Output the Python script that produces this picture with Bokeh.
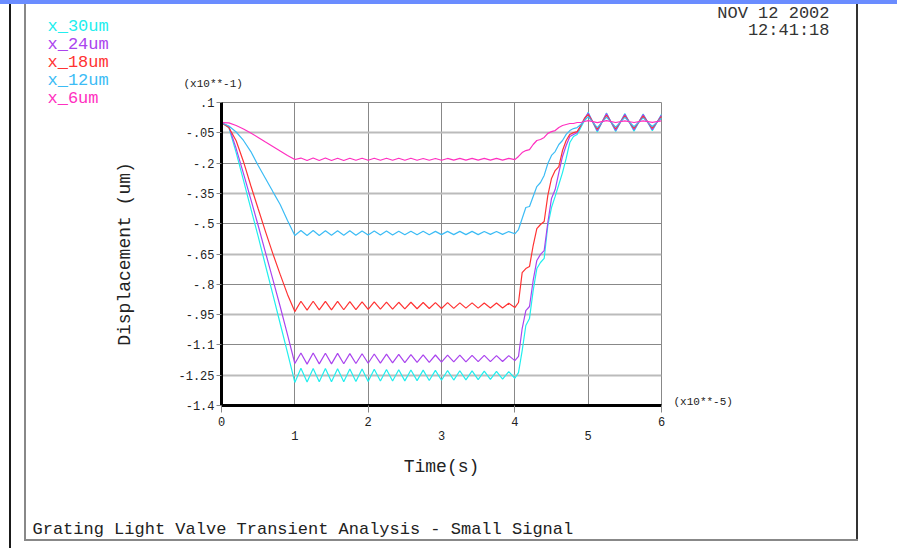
from bokeh.plotting import figure
from bokeh.models import Range1d, FixedTicker, LinearAxis, Grid, Label, InlineStyleSheet
from bokeh.embed import file_html
from bokeh.resources import INLINE

# ---------------- data (time in 1e-5 s, displacement in 1e-1 um) ----------------
t_vals = [
    0.0, 0.1, 0.2, 0.3, 0.4, 0.5, 0.6, 0.7, 0.8, 0.9, 1.0,
    1.083, 1.167, 1.25, 1.333, 1.417, 1.5, 1.583, 1.667, 1.75, 1.833, 1.917, 2.0,
    2.083, 2.167, 2.25, 2.333, 2.417, 2.5, 2.583, 2.667, 2.75, 2.833, 2.917, 3.0,
    3.083, 3.167, 3.25, 3.333, 3.417, 3.5, 3.583, 3.667, 3.75, 3.833, 3.917, 4.0,
    4.05, 4.1, 4.15, 4.2, 4.25, 4.3, 4.35, 4.4, 4.45, 4.5, 4.55, 4.6, 4.65, 4.7, 4.75, 4.8, 4.85, 4.9, 4.95,
    5.0, 5.125, 5.25, 5.375, 5.5, 5.625, 5.75, 5.875, 6.0,
]
x_30um = [
    0.0, -0.024, -0.148, -0.286, -0.425, -0.563, -0.707, -0.850, -0.994, -1.138, -1.286,
    -1.216, -1.284, -1.217, -1.283, -1.217, -1.283, -1.218, -1.282, -1.219, -1.281, -1.219, -1.281,
    -1.221, -1.279, -1.222, -1.279, -1.223, -1.278, -1.224, -1.277, -1.225, -1.276, -1.226, -1.275,
    -1.227, -1.274, -1.228, -1.273, -1.229, -1.272, -1.230, -1.271, -1.231, -1.270, -1.232, -1.265,
    -1.237, -1.128, -1.004, -0.969, -0.831, -0.722, -0.692, -0.672, -0.509, -0.420, -0.365, -0.306,
    -0.247, -0.177, -0.098, -0.068, -0.058, -0.024, 0.011,
    0.052, -0.046, 0.048, -0.044, 0.045, -0.042, 0.043, -0.040, 0.042,
]
x_24um = [
    0.0, -0.019, -0.128, -0.252, -0.380, -0.509, -0.643, -0.776, -0.910, -1.049, -1.192,
    -1.140, -1.195, -1.140, -1.194, -1.141, -1.194, -1.142, -1.193, -1.143, -1.192, -1.144, -1.191,
    -1.145, -1.190, -1.146, -1.189, -1.147, -1.188, -1.148, -1.187, -1.149, -1.186, -1.150, -1.185,
    -1.151, -1.184, -1.151, -1.184, -1.152, -1.183, -1.152, -1.183, -1.153, -1.182, -1.153, -1.178,
    -1.157, -1.019, -0.930, -0.910, -0.781, -0.682, -0.652, -0.633, -0.494, -0.375, -0.331, -0.247,
    -0.167, -0.113, -0.068, -0.058, -0.049, -0.014, 0.021,
    0.048, -0.040, 0.045, -0.038, 0.042, -0.036, 0.040, -0.035, 0.038,
]
x_18um = [
    0.0, -0.024, -0.089, -0.193, -0.312, -0.426, -0.539, -0.648, -0.751, -0.850, -0.935,
    -0.884, -0.928, -0.884, -0.927, -0.885, -0.927, -0.885, -0.926, -0.886, -0.925, -0.887, -0.924,
    -0.887, -0.923, -0.888, -0.923, -0.889, -0.922, -0.889, -0.921, -0.890, -0.920, -0.891, -0.920,
    -0.891, -0.919, -0.892, -0.918, -0.892, -0.918, -0.893, -0.917, -0.893, -0.917, -0.894, -0.915,
    -0.890, -0.742, -0.722, -0.712, -0.608, -0.524, -0.504, -0.489, -0.360, -0.276, -0.237, -0.217,
    -0.138, -0.088, -0.058, -0.049, -0.044, -0.014, 0.021,
    0.040, -0.032, 0.037, -0.030, 0.034, -0.028, 0.032, -0.027, 0.030,
]
x_12um = [
    0.0, -0.016, -0.046, -0.088, -0.143, -0.212, -0.276, -0.341, -0.405, -0.484, -0.558,
    -0.534, -0.558, -0.534, -0.558, -0.535, -0.557, -0.535, -0.557, -0.535, -0.557, -0.536, -0.556,
    -0.536, -0.556, -0.536, -0.556, -0.537, -0.555, -0.537, -0.555, -0.537, -0.555, -0.538, -0.554,
    -0.538, -0.554, -0.538, -0.554, -0.538, -0.554, -0.539, -0.553, -0.539, -0.553, -0.539, -0.550,
    -0.529, -0.474, -0.420, -0.415, -0.365, -0.316, -0.296, -0.261, -0.202, -0.162, -0.143, -0.108,
    -0.088, -0.058, -0.039, -0.029, -0.024, -0.009, 0.011,
    0.030, -0.024, 0.028, -0.022, 0.026, -0.020, 0.024, -0.019, 0.022,
]
x_6um = [
    0.0, -0.001, -0.014, -0.031, -0.051, -0.073, -0.096, -0.118, -0.140, -0.162, -0.182,
    -0.175, -0.187, -0.175, -0.187, -0.175, -0.187, -0.176, -0.187, -0.176, -0.186, -0.176, -0.186,
    -0.176, -0.186, -0.176, -0.186, -0.176, -0.186, -0.176, -0.186, -0.177, -0.186, -0.177, -0.186,
    -0.177, -0.185, -0.177, -0.185, -0.177, -0.185, -0.177, -0.185, -0.177, -0.185, -0.177, -0.183,
    -0.167, -0.148, -0.138, -0.133, -0.108, -0.088, -0.083, -0.073, -0.053, -0.044, -0.039, -0.024,
    -0.014, -0.009, -0.004, -0.004, 0.001, 0.001, 0.006,
    0.010, 0.000, 0.010, 0.001, 0.009, 0.001, 0.009, 0.002, 0.009,
]

series_names = ["x_30um", "x_24um", "x_18um", "x_12um", "x_6um"]
series_values = [x_30um, x_24um, x_18um, x_12um, x_6um]
series_colors = ["#22eeee", "#aa44ee", "#ff3333", "#3cbcf5", "#ff30c0"]

x_ticks_even = [0, 2, 4, 6]
x_ticks_odd = [1, 3, 5]
y_ticks = [0.1, -0.05, -0.2, -0.35, -0.5, -0.65, -0.8, -0.95, -1.1, -1.25, -1.4]
y_tick_labels = [".1", "-.05", "-.2", "-.35", "-.5", "-.65", "-.8", "-.95", "-1.1", "-1.25", "-1.4"]
y_grid_dark = [-0.2, -0.5, -0.8, -1.1]
y_grid_light = [-0.05, -0.35, -0.65, -0.95, -1.25]

title_text = "Grating Light Valve Transient Analysis - Small Signal"
date_text = "NOV 12 2002"
time_text = "12:41:18"
x_label = "Time(s)"
y_label = "Displacement (um)"
x_scale_note = "(x10**-5)"
y_scale_note = "(x10**-1)"

# ---------------- layout ----------------
W, H = 897, 548
FL, FR, FT, FB = 221, 661, 102, 405
X0, X1, Y0, Y1 = 0.0, 6.0, -1.4, 0.1
FONT = "Liberation Mono"


def dx(X):
    # page pixel column -> data x (for placing text outside the frame)
    return X0 + (X - FL) / (FR - FL) * (X1 - X0)


def dy(Y):
    # page pixel row -> data y
    return Y1 - (Y - FT) / (FB - FT) * (Y1 - Y0)


page_css = InlineStyleSheet(css="""
:host {
  background:
    linear-gradient(#6a8cff, #6a8cff) 0px 0px / 897px 4px no-repeat,
    linear-gradient(#1a1a1a, #1a1a1a) 9px 4px / 2px 544px no-repeat,
    linear-gradient(#888888, #888888) 24px 4px / 2px 537px no-repeat,
    linear-gradient(#888888, #888888) 24px 539px / 834px 2px no-repeat,
    linear-gradient(#333333, #333333) 856px 4px / 2px 537px no-repeat,
    #ffffff;
}
""")

p = figure(width=W, height=H, output_backend="svg", toolbar_location=None,
           x_range=Range1d(X0, X1), y_range=Range1d(Y0, Y1),
           min_border_left=FL, min_border_right=W - FR,
           min_border_top=FT, min_border_bottom=H - FB,
           stylesheets=[page_css])
p.background_fill_color = "white"
p.border_fill_color = None
p.outline_line_color = "#888888"
p.outline_line_width = 1

xa = p.xaxis[0]
xa.ticker = FixedTicker(ticks=x_ticks_even)
xa.axis_line_color = "black"
xa.axis_line_width = 3
xa.major_tick_out = 7
xa.major_tick_in = 0
xa.major_tick_line_color = "#888888"
xa.minor_tick_line_color = None
xa.major_label_text_font = FONT
xa.major_label_text_font_size = "12px"
xa.major_label_text_color = "#222222"
xa.major_label_standoff = 4

xa2 = LinearAxis(ticker=FixedTicker(ticks=x_ticks_odd), axis_line_color=None,
                 major_tick_line_color=None, minor_tick_line_color=None,
                 major_tick_out=0, major_tick_in=0, major_label_standoff=2,
                 major_label_text_font=FONT, major_label_text_font_size="12px",
                 major_label_text_color="#222222",
                 axis_label=x_label, axis_label_text_font=FONT,
                 axis_label_text_font_size="18px", axis_label_text_font_style="normal",
                 axis_label_text_color="#222222", axis_label_standoff=14)
p.add_layout(xa2, "below")

ya = p.yaxis[0]
ya.ticker = FixedTicker(ticks=y_ticks)
ya.major_label_overrides = dict(zip(y_ticks, y_tick_labels))
ya.axis_line_color = "black"
ya.axis_line_width = 3
ya.major_tick_out = 5
ya.major_tick_in = 0
ya.major_tick_line_color = "#888888"
ya.minor_tick_line_color = None
ya.major_label_text_font = FONT
ya.major_label_text_font_size = "12px"
ya.major_label_text_color = "#222222"
ya.major_label_standoff = 2
ya.axis_label = y_label
ya.axis_label_text_font = FONT
ya.axis_label_text_font_size = "18px"
ya.axis_label_text_font_style = "normal"
ya.axis_label_text_color = "#222222"
ya.axis_label_standoff = 40

p.xgrid.ticker = FixedTicker(ticks=[1, 2, 3, 4, 5])
p.xgrid.grid_line_color = "#888888"
p.xgrid.grid_line_width = 1
p.ygrid.ticker = FixedTicker(ticks=y_grid_dark)
p.ygrid.grid_line_color = "#888888"
p.ygrid.grid_line_width = 1
p.add_layout(Grid(dimension=1, ticker=FixedTicker(ticks=y_grid_light),
                  grid_line_color="#bbbbbb", grid_line_width=2))

for vals, col in zip(series_values, series_colors):
    p.line(t_vals, vals, line_color=col, line_width=1.2)


def text_label(txt, X, Y, color="#222222", size="17px", align="left"):
    return Label(x=dx(X), y=dy(Y), text=txt, text_color=color, text_font=FONT,
                 text_font_size=size, text_baseline="middle", text_align=align)


# texts outside the plotting frame go into the side panels (center is clipped)
legend_labels = [text_label(n, 47, 26 + 18 * i, color=c)
                 for i, (n, c) in enumerate(zip(series_names, series_colors))]
for lab in legend_labels[:4]:
    p.add_layout(lab, "above")
p.add_layout(text_label(x_scale_note, 673, 401, size="11px"), "above")
p.add_layout(legend_labels[4], "left")
p.add_layout(text_label(date_text, 829, 12.5, color="#333333", align="right"), "right")
p.add_layout(text_label(y_scale_note, 183, 83, size="11px"), "right")
p.add_layout(text_label(title_text, 32, 529), "below")
p.add_layout(text_label(time_text, 829, 29.5, color="#333333", align="right"), "below")

open("out.html", "w").write(file_html(p, INLINE))
